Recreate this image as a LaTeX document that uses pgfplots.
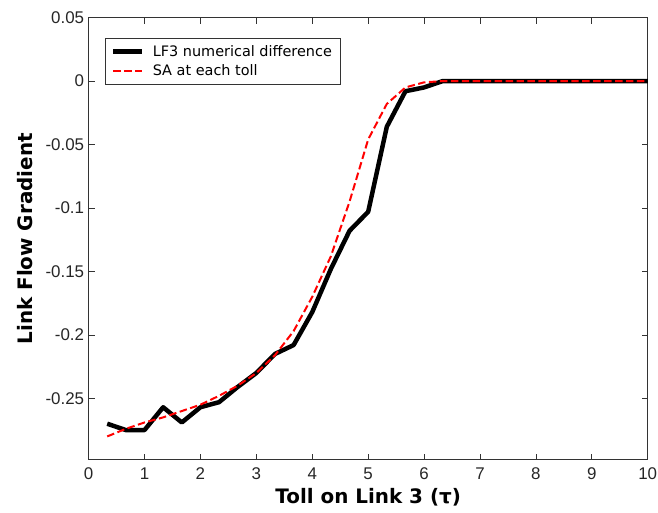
\documentclass[border=0pt]{standalone}
\usepackage{pgfplots}
\pgfplotsset{compat=1.18}
\usepackage{fontspec}
\setmainfont{Liberation Sans}
\newfontfamily\labelfont{DejaVu Sans}
\begin{document}
\begin{tikzpicture}
\begin{axis}[
  scale only axis,
  width=561.7pt, height=444.3pt,
  at={(0,0)}, anchor=south west,
  xmin=0, xmax=10, ymin=-0.2985, ymax=0.05,
  xtick={0,1,...,10},
  ytick={-0.25,-0.2,-0.15,-0.1,-0.05,0,0.05},
  yticklabels={-0.25,-0.2,-0.15,-0.1,-0.05,0,0.05},
  tick align=inside,
  major tick length=6pt,
  xtick pos=both, ytick pos=both,
  axis line style={line width=1pt, black!80},
  tick style={line width=0.8pt, black!80},
  /pgf/number format/assume math mode=true,
  tick label style={font=\fontsize{17}{20}\selectfont, black!85},
  xticklabel style={yshift=-4pt},
  yticklabel style={xshift=-1pt},
  xlabel={Toll on Link 3 (τ)},
  ylabel={Link Flow Gradient},
  label style={font=\labelfont\bfseries\fontsize{20}{23}\selectfont},
  xlabel style={yshift=-2pt},
  ylabel style={yshift=6pt},
  legend cell align=left,
  legend style={at={(rel axis cs:0.0285,0.955)}, anchor=north west,
    font=\labelfont\fontsize{14.5}{17}\selectfont, draw=black!80, line width=1pt,
    inner xsep=6pt, inner ysep=5pt, row sep=2pt, column sep=6pt,
    nodes={inner sep=2.5pt}},
  legend image code/.code={\draw[#1] (0pt,0pt) -- (29pt,0pt);},
]
\addplot[black, line width=4.5pt, line join=round] coordinates {
(0.3333,-0.270) (0.6667,-0.275) (1.0,-0.275) (1.3333,-0.257) (1.6667,-0.269)
(2.0,-0.257) (2.3333,-0.253) (2.6667,-0.241) (3.0,-0.230) (3.3333,-0.215)
(3.6667,-0.208) (4.0,-0.182) (4.3333,-0.148) (4.6667,-0.118) (5.0,-0.103)
(5.3333,-0.036) (5.6667,-0.008) (6.0,-0.005) (6.3333,0.0) (10.0,0.0)
};
\addlegendentry{LF3 numerical difference\hspace{5pt}}
\addplot[red, line width=2pt, dash pattern=on 7.5pt off 3.5pt] coordinates {
(0.3333,-0.280) (0.6667,-0.274) (1.0,-0.269) (1.3333,-0.265) (1.6667,-0.260)
(2.0,-0.255) (2.3333,-0.248) (2.6667,-0.240) (3.0,-0.230) (3.3333,-0.216)
(3.6667,-0.197) (4.0,-0.170) (4.3333,-0.138) (4.6667,-0.095) (5.0,-0.046)
(5.3333,-0.018) (5.6667,-0.005) (6.0,-0.001) (6.3333,0.0) (10.0,0.0)
};
\addlegendentry{SA at each toll}
\end{axis}
\pgfresetboundingbox
\path (-89pt,-53pt) rectangle (572pt,462pt);
\end{tikzpicture}
\end{document}
